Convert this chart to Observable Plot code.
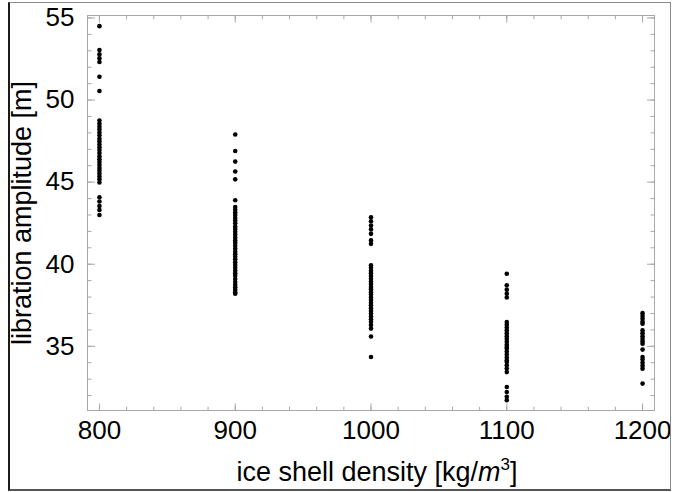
<!DOCTYPE html>
<html><head><meta charset="utf-8">
<script src="https://cdn.jsdelivr.net/npm/d3@7"></script>
<script src="https://cdn.jsdelivr.net/npm/@observablehq/plot@0.6"></script>
<style>
html,body{margin:0;padding:0;background:#fff;}
#wrap{position:relative;width:679px;height:492px;overflow:hidden;}
#border{position:absolute;left:8px;top:2px;width:663px;height:489px;box-sizing:border-box;border-left:2px solid #1a1a1a;border-top:1px solid #8a8a8a;border-right:1px solid #8a8a8a;border-bottom:2px solid #555;pointer-events:none;}
</style></head><body><div id="wrap"><div id="border"></div></div>
<script>
const densities = [800, 900, 1000, 1100, 1200];
const amp800 = [54.5, 53.05, 52.78, 52.55, 52.32, 51.42, 50.55,
  48.75, 48.55, 48.38, 48.2, 48.02, 47.85, 47.64, 47.48, 47.3, 47.12, 46.95, 46.77, 46.58, 46.4,
  46.22, 46.05, 45.86, 45.7, 45.52, 45.35, 45.18, 44.98,
  44.08, 43.82, 43.55, 43.3, 43.0];
const amp900 = [47.9, 46.9, 46.25, 45.65, 45.17, 43.9,
  43.48, 43.32, 43.15, 43.0, 42.82, 42.66, 42.5, 42.3, 42.15, 41.98, 41.8, 41.62, 41.45, 41.3,
  41.12, 40.95, 40.75, 40.6, 40.45, 40.3, 40.12, 39.95, 39.78, 39.6, 39.45, 39.3, 39.1, 38.92,
  38.75, 38.6, 38.45, 38.3, 38.2];
const amp1000 = [42.86, 42.62, 42.36, 42.12, 41.85, 41.45, 41.24,
  39.93, 39.78, 39.6, 39.45, 39.28, 39.12, 38.95, 38.8, 38.62, 38.48, 38.3, 38.15, 37.98, 37.82,
  37.65, 37.5, 37.32, 37.15, 37.0, 36.82, 36.65, 36.5, 36.3, 36.08, 35.6, 34.35];
const amp1100 = [39.42, 38.72, 38.45, 38.2, 37.97,
  36.48, 36.32, 36.15, 35.98, 35.8, 35.62, 35.45, 35.28, 35.1, 34.96,
  34.86, 34.68, 34.5, 34.32, 34.15,
  34.04, 33.85, 33.65, 33.43,
  32.52, 32.22, 31.92, 31.72];
const amp1200 = [37.02, 36.85, 36.68, 36.5, 36.38,
  35.97, 35.8, 35.62, 35.45, 35.3, 35.16,
  34.8,
  34.35, 34.2, 34.0, 33.82, 33.64,
  32.73];

const xTicks = [800, 900, 1000, 1100, 1200];
const xMinor = d3.range(800, 1201, 20);
const yTicks = [35, 40, 45, 50, 55];
const yMinor = d3.range(32, 56, 1);
const xTitle = "ice shell density [kg/m³]";
const yTitle = "libration amplitude [m]";

const series = [amp800, amp900, amp1000, amp1100, amp1200];
const data = densities.flatMap((d, i) => series[i].map(a => ({density: d, amplitude: a})));

const frameColor = "#a8a8a8";
const fmt = d3.format("d");
const chart = Plot.plot({
  width: 679, height: 492,
  marginLeft: 87, marginRight: 25, marginTop: 15, marginBottom: 82,
  style: {fontFamily: "'Liberation Sans', Arial, sans-serif", fontSize: "26px", color: "#000", background: "transparent", overflow: "visible"},
  x: {domain: [791.2, 1208.8]},
  y: {domain: [31.09, 55.15]},
  marks: [
    Plot.frame({stroke: frameColor}),
    Plot.axisX({anchor: "bottom", ticks: xMinor, tickSize: 3.3, dy: -3.3, fill: "none", stroke: frameColor, label: null}),
    Plot.axisX({anchor: "top", ticks: xMinor, tickSize: 3.3, dy: 3.3, fill: "none", stroke: frameColor, label: null}),
    Plot.axisX({anchor: "bottom", ticks: xTicks, tickSize: 6.5, dy: -6.5, fill: "none", stroke: frameColor, label: null}),
    Plot.axisX({anchor: "top", ticks: xTicks, tickSize: 6.5, dy: 6.5, fill: "none", stroke: frameColor, label: null}),
    Plot.axisY({anchor: "left", ticks: yMinor, tickSize: 4.5, dx: 4.5, fill: "none", stroke: frameColor, label: null}),
    Plot.axisY({anchor: "right", ticks: yMinor, tickSize: 4.5, dx: -4.5, fill: "none", stroke: frameColor, label: null}),
    Plot.axisY({anchor: "left", ticks: yTicks, tickSize: 8, dx: 8, fill: "none", stroke: frameColor, label: null}),
    Plot.axisY({anchor: "right", ticks: yTicks, tickSize: 8, dx: -8, fill: "none", stroke: frameColor, label: null}),
    Plot.axisX({anchor: "bottom", ticks: xTicks, tickSize: 0, tickPadding: 10, tickFormat: fmt, stroke: "none", fill: "#000", label: null}),
    Plot.axisY({anchor: "left", ticks: yTicks, tickSize: 0, tickPadding: 13, tickFormat: fmt, stroke: "none", fill: "#000", label: null}),
    Plot.dot(data, {x: "density", y: "amplitude", r: 2.3, fill: "#000", stroke: "none"}),
    Plot.text([yTitle], {text: d => d, frameAnchor: "left", dx: -65, rotate: -90, textAnchor: "middle", lineAnchor: "middle", fontSize: 27, fill: "#000"}),
    Plot.text([xTitle], {text: d => d, frameAnchor: "bottom", dy: 70, dx: 6, fontSize: 27, fill: "#000"})
  ]
});
document.getElementById("wrap").appendChild(chart);

d3.select(chart).selectAll("text").filter(function() { return this.textContent === xTitle; }).each(function() {
  const t = d3.select(this);
  t.text(null);
  t.append("tspan").text("ice shell density [kg/");
  t.append("tspan").attr("font-style", "italic").text("m");
  t.append("tspan").attr("font-size", "17px").attr("dy", "-11").text("3");
  t.append("tspan").attr("dy", "11").text("]");
});
</script>
</body></html>
